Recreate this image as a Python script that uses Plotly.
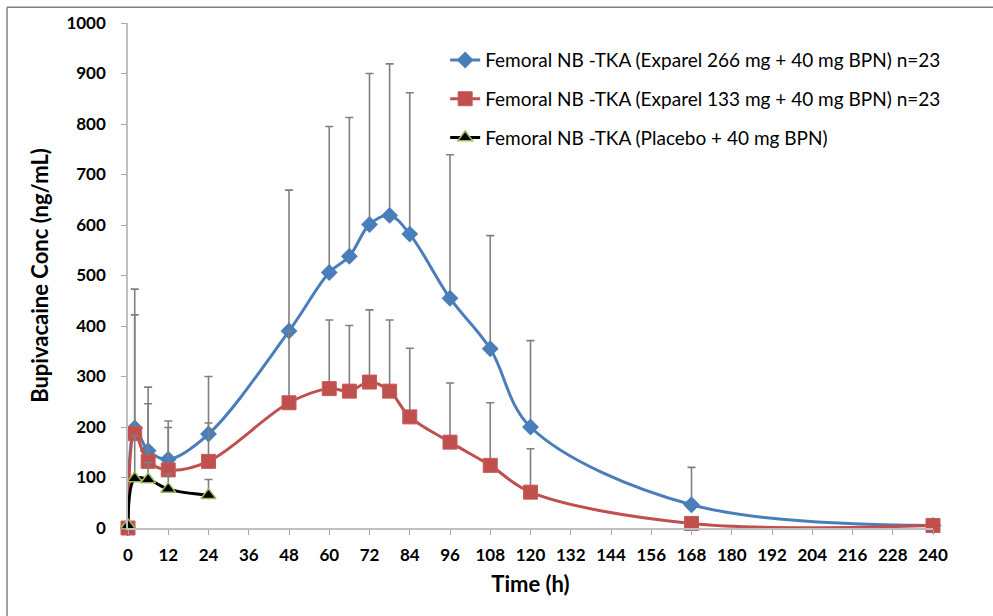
import plotly.graph_objects as go

# Sampling times (h)
time_exparel = [0, 2, 6, 12, 24, 48, 60, 66, 72, 78, 84, 96, 108, 120, 168, 240]
time_placebo = [0, 2, 6, 12, 24]

# Mean plasma bupivacaine concentration (ng/mL) and upper SD
conc_266 = [0, 198, 153, 136, 186, 390, 506, 538, 601, 619, 582, 455, 355, 200, 46, 5]
sd_266 = [0, 275, 126, 76, 114, 279, 289, 275, 299, 300, 280, 284, 224, 171, 74, 0]

conc_133 = [0, 187, 132, 115, 132, 248, 276, 271, 289, 271, 220, 170, 124, 71, 9, 5]
sd_133 = [0, 235, 114, 84, 76, 142, 136, 130, 143, 141, 136, 117, 124, 86, 0, 0]

conc_placebo = [5, 98, 96, 77, 65]
sd_placebo = [0, 85, 34, 30, 31]

names = [
    "Femoral NB -TKA (Exparel 266 mg + 40 mg BPN) n=23",
    "Femoral NB -TKA (Exparel 133 mg + 40 mg BPN) n=23",
    "Femoral NB -TKA (Placebo + 40 mg BPN)",
]

x_ticks = list(range(0, 241, 12))
y_ticks = list(range(0, 1001, 100))

ERR_COLOR = "#7f7f7f"
FONT = "Lato"


def err(sd):
    return dict(type="data", symmetric=False, array=sd, arrayminus=[0] * len(sd),
                color=ERR_COLOR, thickness=1.6, width=4)


fig = go.Figure()
fig.add_trace(go.Scatter(
    x=time_exparel, y=conc_266, name=names[0], legendgroup="a",
    mode="lines+markers", line=dict(color="#4a7ebb", width=3, shape="spline", smoothing=1),
    marker=dict(symbol="diamond", size=13, color="#4a7ebb"),
    error_y=err(sd_266), cliponaxis=False,
))
fig.add_trace(go.Scatter(
    x=time_exparel, y=conc_133, name=names[1], legendgroup="b",
    mode="lines+markers", line=dict(color="#c0504d", width=3, shape="spline", smoothing=1),
    marker=dict(symbol="square", size=14, color="#c0504d", line=dict(color="#c65b58", width=1)),
    error_y=err(sd_133), cliponaxis=False,
))
fig.add_trace(go.Scatter(
    x=time_placebo, y=conc_placebo, name=names[2], legendgroup="c",
    mode="lines+markers", line=dict(color="#000000", width=3, shape="spline", smoothing=1),
    marker=dict(symbol="triangle-up", size=13, color="#000000", line=dict(color="#9bbb59", width=1.5)),
    error_y=err(sd_placebo), cliponaxis=False,
))

axis_common = dict(
    showgrid=False, zeroline=False, showline=True, linecolor="#bfbfbf", linewidth=1.5,
    ticks="outside", ticklen=5, tickwidth=1.2, tickcolor="#a6a6a6",
    tickfont=dict(family=FONT, size=17, color="#000000", weight="bold"),
)

fig.update_layout(
    width=993, height=616,
    margin=dict(l=128, r=60, t=19, b=88),
    paper_bgcolor="white", plot_bgcolor="white",
    font=dict(family=FONT, color="#000000"),
    xaxis=dict(
        range=[0, 240], tickvals=x_ticks, ticktext=[str(v) for v in x_ticks],
        title=dict(text="Time (h)", font=dict(family=FONT, size=22, weight="bold"), standoff=12),
        ticklabelstandoff=6,
        **axis_common,
    ),
    yaxis=dict(
        range=[0, 1000], tickvals=y_ticks, ticktext=[str(v) for v in y_ticks],
        title=dict(text="Bupivacaine Conc (ng/mL)", font=dict(family=FONT, size=22, weight="bold"), standoff=12),
        ticklabelstandoff=12,
        **axis_common,
    ),
    legend=dict(
        x=0.394, y=0.964, xanchor="left", yanchor="top",
        bgcolor="rgba(0,0,0,0)", font=dict(family=FONT, size=19, color="#000000"),
        traceorder="grouped", tracegroupgap=11, itemwidth=30,
    ),
    shapes=[
        dict(type="line", xref="paper", yref="paper", x0=-0.1503, x1=-0.1503, y0=1.0314, y1=-0.2,
             line=dict(color="#808080", width=1.5)),
        dict(type="line", xref="paper", yref="paper", x0=-0.1503, x1=1.08, y0=1.0314, y1=1.0314,
             line=dict(color="#808080", width=1.5)),
    ],
)

fig.write_html("out.html")
